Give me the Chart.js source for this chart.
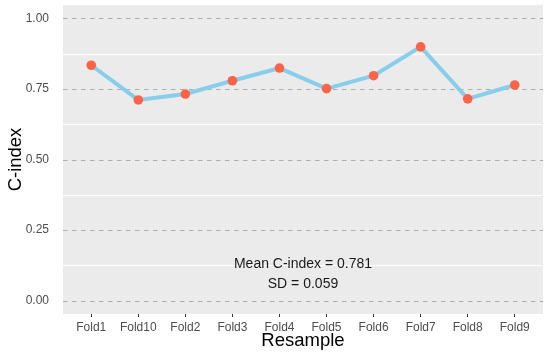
<!DOCTYPE html>
<html>
<head>
<meta charset="utf-8">
<script src="https://cdn.jsdelivr.net/npm/chart.js@4/dist/chart.umd.min.js"></script>
<style>
  html, body { margin: 0; padding: 0; background: #ffffff; }
  #wrap { width: 550px; height: 355px; }
</style>
</head>
<body>
<div id="wrap"><canvas id="c" width="550" height="355"></canvas></div>
<script>
// ---- data ----
const categories = ["Fold1", "Fold10", "Fold2", "Fold3", "Fold4", "Fold5", "Fold6", "Fold7", "Fold8", "Fold9"];
const cIndex = [0.834, 0.711, 0.732, 0.779, 0.824, 0.751, 0.797, 0.899, 0.715, 0.764];
const majorTicks = [0, 0.25, 0.5, 0.75, 1.0];
const minorTicks = [0.125, 0.375, 0.625, 0.875];
const annotationLines = ["Mean C-index = 0.781", "SD = 0.059"];

const FONT = "'Liberation Sans', Arial, Helvetica, sans-serif";

const panelPlugin = {
  id: 'panel',
  beforeDraw(chart) {
    const { ctx, chartArea: a } = chart;
    ctx.save();
    ctx.fillStyle = '#ebebeb';
    ctx.fillRect(a.left, a.top, a.right - a.left, a.bottom - a.top);
    ctx.restore();
  },
  beforeDatasetsDraw(chart) {
    const { ctx, chartArea: a, scales } = chart;
    const y = scales.y;
    ctx.save();
    ctx.lineWidth = 1;
    ctx.strokeStyle = '#ffffff';
    minorTicks.forEach(v => {
      const py = Math.round(y.getPixelForValue(v)) + 0.5;
      ctx.beginPath(); ctx.moveTo(a.left, py); ctx.lineTo(a.right, py); ctx.stroke();
    });
    ctx.strokeStyle = '#adadad';
    ctx.setLineDash([4.5, 4.5]);
    majorTicks.forEach(v => {
      const py = Math.round(y.getPixelForValue(v)) + 0.5;
      ctx.beginPath(); ctx.moveTo(a.left, py); ctx.lineTo(a.right, py); ctx.stroke();
    });
    ctx.restore();
  },
  afterDatasetsDraw(chart) {
    const { ctx, scales } = chart;
    const cx = scales.x.getPixelForValue((categories.length - 1) / 2);
    const ys = [0.128, 0.057];
    ctx.save();
    ctx.fillStyle = '#1a1a1a';
    ctx.font = '14px ' + FONT;
    ctx.textAlign = 'center';
    ctx.textBaseline = 'middle';
    annotationLines.forEach((t, i) => {
      ctx.fillText(t, cx, scales.y.getPixelForValue(ys[i]));
    });
    ctx.restore();
  }
};

new Chart(document.getElementById('c'), {
  type: 'line',
  data: {
    datasets: [{
      data: cIndex.map((v, i) => ({ x: i, y: v })),
      borderColor: '#87ceeb',
      borderWidth: 4,
      backgroundColor: '#ff6347',
      pointBackgroundColor: '#ff6347',
      pointBorderColor: '#ff6347',
      pointBorderWidth: 0,
      pointRadius: 4.8,
      tension: 0,
      clip: false
    }]
  },
  options: {
    responsive: false,
    animation: false,
    events: [],
    layout: { padding: { top: 5, right: 7, left: 0, bottom: 0 } },
    plugins: { legend: { display: false }, tooltip: { enabled: false } },
    scales: {
      x: {
        type: 'linear',
        min: -0.6,
        max: categories.length - 1 + 0.6,
        afterBuildTicks(scale) { scale.ticks = categories.map((c, i) => ({ value: i })); },
        afterFit(scale) { scale.height = 41; scale.paddingLeft = 0; scale.paddingRight = 0; },
        grid: { drawOnChartArea: false, drawTicks: true, tickLength: 3, tickColor: '#333333', color: '#333333', tickWidth: 1 },
        border: { display: false },
        ticks: {
          autoSkip: false, maxRotation: 0, padding: 3.5,
          color: '#4d4d4d', font: { family: FONT, size: 12 },
          callback: (v) => categories[v]
        },
        title: {
          display: true, text: 'Resample', color: '#000000',
          font: { family: FONT, size: 18.5, lineHeight: 1 },
          padding: { top: 0, bottom: 5 }
        }
      },
      y: {
        type: 'linear',
        min: -0.0475,
        max: 1.0475,
        afterBuildTicks(scale) { scale.ticks = majorTicks.map(v => ({ value: v })); },
        afterFit(scale) { scale.width = 63; scale.paddingTop = 0; scale.paddingBottom = 0; },
        grid: { display: false },
        border: { display: false },
        ticks: {
          padding: 6, color: '#4d4d4d', font: { family: FONT, size: 12 },
          callback: (v) => v.toFixed(2)
        },
        title: {
          display: true, text: 'C-index', color: '#000000',
          font: { family: FONT, size: 18.5, lineHeight: 1 },
          padding: { top: 7, bottom: 0 }
        }
      }
    }
  },
  plugins: [panelPlugin]
});
</script>
</body>
</html>
